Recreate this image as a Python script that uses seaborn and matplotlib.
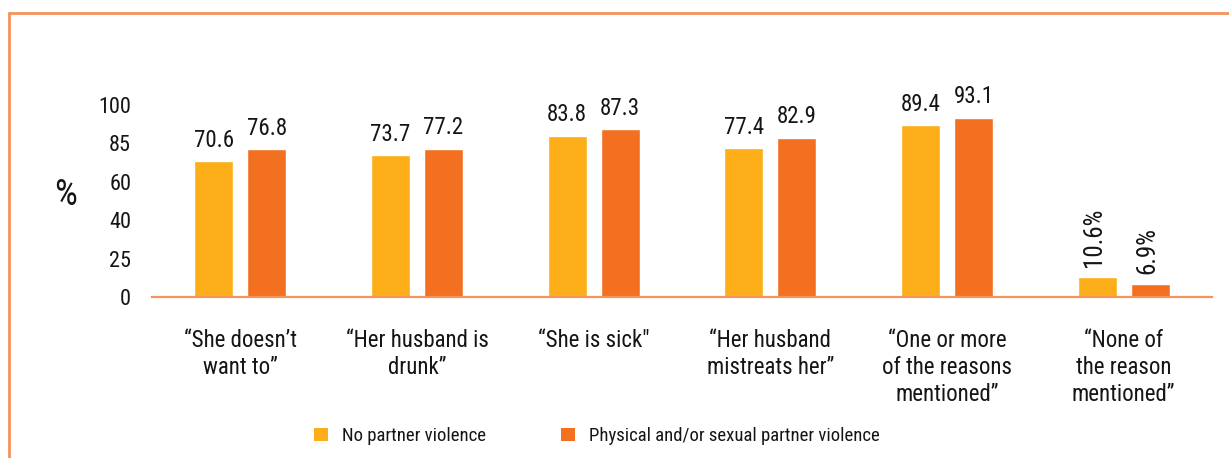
import matplotlib
matplotlib.use("Agg")
import matplotlib.pyplot as plt
from matplotlib import font_manager
from matplotlib.lines import Line2D
from matplotlib.patches import Patch
import seaborn as sns
import pandas as pd

# Share of women who think a wife may refuse sex with her husband, by reason
categories = [
    "\u201cShe doesn\u2019t\nwant to\u201d",
    "\u201cHer husband is\ndrunk\u201d",
    "\u201cShe is sick\"",
    "\u201cHer husband\nmistreats her\u201d",
    "\u201cOne or more\nof the reasons\nmentioned\u201d",
    "\u201cNone of\nthe reason\nmentioned\u201d",
]
series_names = ["No partner violence", "Physical and/or sexual partner violence"]
no_violence = [70.6, 73.7, 83.8, 77.4, 89.4, 10.6]
with_violence = [76.8, 77.2, 87.3, 82.9, 93.1, 6.9]
ytick_pos = [0, 20, 40, 60, 80, 100]
ytick_labels = ["0", "25", "40", "60", "85", "100"]

colors = ["#FBAE17", "#F37021"]
line_color = "#F5935A"

sns.set_theme(style="white")
# prefer a condensed face when one is available
available = {f.name for f in font_manager.fontManager.ttflist}
preferred = ["Roboto Condensed", "Liberation Sans Narrow", "Open Sans Condensed",
             "Roboto", "DejaVu Sans"]
families = [f for f in preferred if f in available] or ["DejaVu Sans"]
if "DejaVu Sans" not in families:
    families.append("DejaVu Sans")
plt.rcParams["font.family"] = families
text_color = "#151515"

df = pd.DataFrame({
    "reason": categories * 2,
    "value": no_violence + with_violence,
    "group": [series_names[0]] * len(categories) + [series_names[1]] * len(categories),
})

W, H = 1229, 458
fig = plt.figure(figsize=(W / 100, H / 100), dpi=100)
ax = fig.add_axes([152 / W, (H - 297) / H, (1212 - 152) / W, (297 - 60) / H])

sns.barplot(data=df, x="reason", y="value", hue="group", order=categories,
            hue_order=series_names, palette=colors, width=0.6, gap=0.27,
            saturation=1, ax=ax, legend=False, errorbar=None)

ax.set_xlim(-0.5, len(categories) - 0.5)
ax.set_ylim(0, 123.4)
ax.set_yticks(ytick_pos)
ax.set_yticklabels(ytick_labels, fontsize=16, color=text_color)
ax.tick_params(axis="y", length=0, pad=15)
ax.tick_params(axis="x", length=0, pad=23, labelsize=16.5, colors=text_color)
for lbl in ax.get_xticklabels():
    lbl.set_linespacing(1.22)
    lbl.set_color(text_color)
ax.set_xlabel("")
ax.set_ylabel("%", fontsize=26, rotation=0, color=text_color, va="center")
ax.yaxis.set_label_coords(-0.082, 0.43)

for side in ["left", "right", "top"]:
    ax.spines[side].set_visible(False)
ax.spines["bottom"].set_color(line_color)
ax.spines["bottom"].set_linewidth(1.6)

# value labels: plain numbers, last group rotated with a percent sign
for cont, vals in zip(ax.containers, [no_violence, with_violence]):
    labels = [f"{v:.1f}" for v in vals[:-1]] + [f"{vals[-1]:.1f}%"]
    texts = ax.bar_label(cont, labels=labels, padding=7, fontsize=16.5, color=text_color)
    texts[-1].set_rotation(90)
    texts[-1].set_va("bottom")
    texts[-1].set_ha("center")
    texts[-1].set_fontsize(18)
    texts[-1].xyann = (-2, 7)

# legend below the axis
handles = [Patch(facecolor=c, edgecolor="none") for c in colors]
fig.legend(handles, series_names, loc="center left", bbox_to_anchor=(297 / W, 1 - 436 / H),
           ncol=2, frameon=False, fontsize=13.5, handlelength=0.75, handleheight=0.75,
           handletextpad=0.75, columnspacing=4.0, labelcolor=text_color)

# decorative frame along the top and left edges
fig.add_artist(Line2D([9 / W, 1.0], [1 - 13 / H, 1 - 13 / H], transform=fig.transFigure,
                      color=line_color, lw=2))
fig.add_artist(Line2D([9 / W, 9 / W], [1 - 13 / H, 0.0], transform=fig.transFigure,
                      color=line_color, lw=2))

fig.savefig("out.png", dpi=100)
